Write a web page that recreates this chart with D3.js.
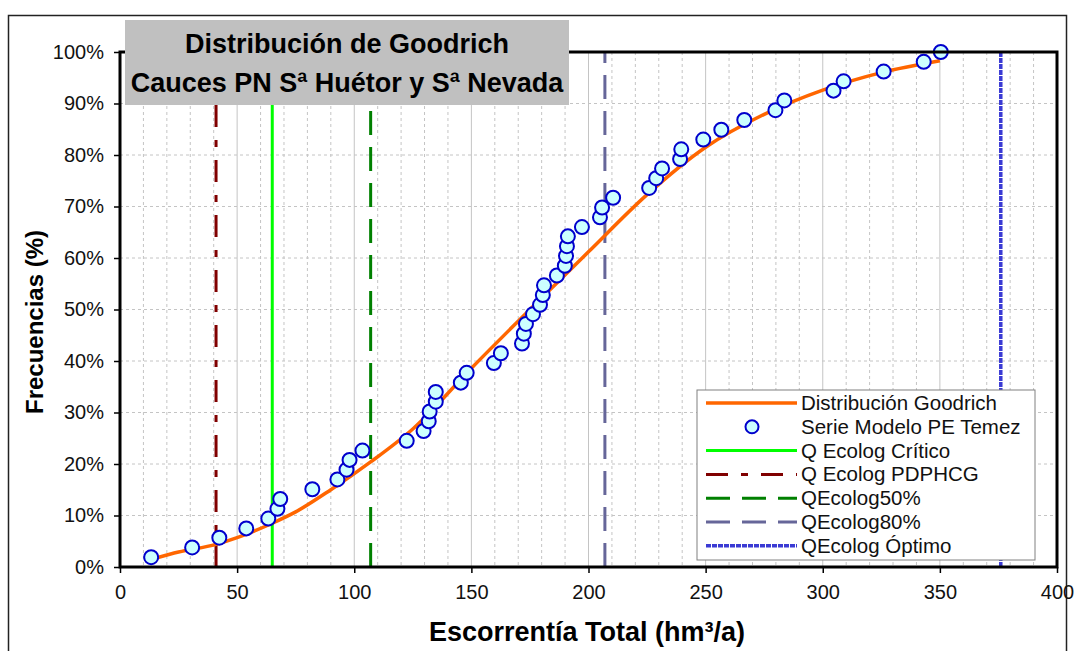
<!DOCTYPE html>
<html>
<head>
<meta charset="utf-8">
<script src="https://cdn.jsdelivr.net/npm/d3@7"></script>
<style>
  body { margin: 0; background: #fff; }
  svg { font-family: "Liberation Sans", Arial, sans-serif; }
</style>
</head>
<body>
<svg id="chart" width="1075" height="651"></svg>
<script>
// Serie Modelo PE Temez (escorrentía hm3/a, frecuencia %)
const serieX = [13.3, 30.8, 42.4, 53.9, 63.3, 67.2, 68.4, 82.1, 92.8, 96.7, 98.0, 103.5,
    122.4, 129.6, 131.8, 132.2, 134.8, 134.8, 145.5, 148.0, 159.6, 162.6,
    171.6, 172.4, 173.3, 176.3, 179.3, 180.5, 181.0, 186.5, 189.9, 190.4, 190.8, 191.2,
    197.2, 204.9, 205.8, 210.5, 225.9, 228.9, 231.4, 239.1, 239.6, 249.0, 256.7,
    266.5, 279.8, 283.6, 304.6, 308.9, 326.0, 343.1, 350.4];
const serieY = [1.9, 3.8, 5.7, 7.5, 9.4, 11.3, 13.2, 15.1, 17.0, 18.9, 20.8, 22.6,
    24.5, 26.4, 28.3, 30.2, 32.1, 34.0, 35.8, 37.7, 39.6, 41.5,
    43.4, 45.3, 47.2, 49.1, 50.9, 52.8, 54.7, 56.6, 58.5, 60.4, 62.3, 64.2,
    66.0, 67.9, 69.8, 71.7, 73.6, 75.5, 77.4, 79.2, 81.1, 83.0, 84.9,
    86.8, 88.7, 90.6, 92.5, 94.3, 96.2, 98.1, 100.0];

// Distribución Goodrich (curva)
const curvaX = [15, 25, 41, 50, 65, 75, 90, 107, 125, 150, 175, 200, 225, 250, 275, 300, 325, 350];
const curvaY = [1.7, 2.9, 4.4, 5.7, 8.5, 10.7, 15.0, 20.4, 26.8, 38.6, 50.0, 61.2, 72.3, 81.5, 87.9, 92.6, 96.0, 98.3];

// Caudales ecológicos
const caudalNombres = ["Q Ecolog PDPHCG", "Q Ecolog Crítico", "QEcolog50%", "QEcolog80%", "QEcolog Óptimo"];
const caudalValores = [41, 65, 107, 207, 376];

const xTicks = [0, 50, 100, 150, 200, 250, 300, 350, 400];
const yTicks = [0, 10, 20, 30, 40, 50, 60, 70, 80, 90, 100];

const estilos = {
    "Q Ecolog PDPHCG": { color: "#800000", dash: "22,13,7,13", width: 3 },
    "Q Ecolog Crítico": { color: "#00ff00", dash: null, width: 3 },
    "QEcolog50%": { color: "#008000", dash: "24,12", width: 3 },
    "QEcolog80%": { color: "#666699", dash: "24,12", width: 3 },
    "QEcolog Óptimo": { color: "#3a3ad4", dash: "5,1", width: 3.5 }
};

const svg = d3.select("#chart");
const margin = { left: 120, top: 52, right: 18, bottom: 84 };
const width = 1075 - margin.left - margin.right;
const height = 651 - margin.top - margin.bottom;

// marco exterior
svg.append("rect")
    .attr("x", 8.5).attr("y", 15.5)
    .attr("width", 1058).attr("height", 640)
    .attr("fill", "none").attr("stroke", "#222").attr("stroke-width", 1.5);

const g = svg.append("g").attr("transform", `translate(${margin.left},${margin.top})`);

const x = d3.scaleLinear().domain([0, 400]).range([0, width]);
const y = d3.scaleLinear().domain([0, 100]).range([height, 0]);

// rejilla
g.append("g").selectAll("line")
    .data(d3.range(10, 400, 10))
    .join("line")
    .attr("x1", d => x(d)).attr("x2", d => x(d))
    .attr("y1", 0).attr("y2", height)
    .attr("stroke", "#c4c4c4")
    .attr("stroke-dasharray", d => d % 50 === 0 ? null : "3,3");

g.append("g").selectAll("line")
    .data(d3.range(10, 100, 10))
    .join("line")
    .attr("x1", 0).attr("x2", width)
    .attr("y1", d => y(d)).attr("y2", d => y(d))
    .attr("stroke", "#c4c4c4")
    .attr("stroke-dasharray", "3,3");

// ejes
const xAxis = g.append("g")
    .attr("transform", `translate(0,${height})`)
    .call(d3.axisBottom(x).tickValues(xTicks).tickSize(6).tickPadding(12));
const yAxis = g.append("g")
    .call(d3.axisLeft(y).tickValues(yTicks).tickSize(6).tickPadding(10).tickFormat(d => d + "%"));

[xAxis, yAxis].forEach(a => {
    a.select(".domain").remove();
    a.selectAll(".tick line").attr("stroke", "#000").attr("stroke-width", 1.5);
    a.selectAll(".tick text")
        .attr("fill", "#111")
        .style("font-size", "20px")
        .style("font-family", "'Liberation Sans', Arial, sans-serif");
});

// lineas verticales de caudales
caudalNombres.forEach((n, i) => {
    const s = estilos[n];
    g.append("line")
        .attr("x1", x(caudalValores[i])).attr("x2", x(caudalValores[i]))
        .attr("y1", height).attr("y2", 0)
        .attr("stroke", s.color)
        .attr("stroke-width", s.width)
        .attr("stroke-dasharray", s.dash);
});

// curva Goodrich
const curva = curvaX.map((d, i) => [d, curvaY[i]]);
g.append("path")
    .datum(curva)
    .attr("fill", "none")
    .attr("stroke", "#ff6600")
    .attr("stroke-width", 3.5)
    .attr("d", d3.line().x(d => x(d[0])).y(d => y(d[1])).curve(d3.curveMonotoneX));

// puntos
g.append("g").selectAll("circle")
    .data(serieX.map((d, i) => [d, serieY[i]]))
    .join("circle")
    .attr("cx", d => x(d[0])).attr("cy", d => y(d[1]))
    .attr("r", 7)
    .attr("fill", "#ccffff")
    .attr("stroke", "#0000cc")
    .attr("stroke-width", 2);

// borde del area de trazado
g.append("rect")
    .attr("width", width).attr("height", height)
    .attr("fill", "none").attr("stroke", "#000").attr("stroke-width", 3);

// titulo
svg.append("rect")
    .attr("x", 125).attr("y", 20).attr("width", 444).attr("height", 85)
    .attr("fill", "#c0c0c0");
svg.append("text")
    .attr("x", 347).attr("y", 53)
    .attr("text-anchor", "middle")
    .style("font-size", "27px").style("font-weight", "bold")
    .text("Distribución de Goodrich");
svg.append("text")
    .attr("x", 347).attr("y", 92)
    .attr("text-anchor", "middle")
    .style("font-size", "27px").style("font-weight", "bold")
    .text("Cauces PN Sª Huétor y Sª Nevada");

// titulos de ejes
svg.append("text")
    .attr("x", 587).attr("y", 641)
    .attr("text-anchor", "middle")
    .style("font-size", "27px").style("font-weight", "bold")
    .text("Escorrentía Total (hm³/a)");
svg.append("text")
    .attr("transform", "translate(43,322) rotate(-90)")
    .attr("text-anchor", "middle")
    .style("font-size", "24px").style("font-weight", "bold")
    .text("Frecuencias (%)");

// leyenda
const leyenda = svg.append("g").attr("transform", "translate(697,390)");
leyenda.append("rect")
    .attr("width", 338).attr("height", 170)
    .attr("fill", "#fff").attr("stroke", "#808080").attr("stroke-width", 1);

const items = ["Distribución Goodrich", "Serie Modelo PE Temez", "Q Ecolog Crítico",
    "Q Ecolog PDPHCG", "QEcolog50%", "QEcolog80%", "QEcolog Óptimo"];
items.forEach((n, i) => {
    const yy = 13 + i * 23.8;
    if (n === "Distribución Goodrich") {
        leyenda.append("line").attr("x1", 9).attr("x2", 100).attr("y1", yy).attr("y2", yy)
            .attr("stroke", "#ff6600").attr("stroke-width", 3.5);
    } else if (n === "Serie Modelo PE Temez") {
        leyenda.append("circle").attr("cx", 55).attr("cy", yy).attr("r", 6.5)
            .attr("fill", "#ccffff").attr("stroke", "#0000cc").attr("stroke-width", 2);
    } else {
        const s = estilos[n];
        leyenda.append("line").attr("x1", 9).attr("x2", 100).attr("y1", yy).attr("y2", yy)
            .attr("stroke", s.color).attr("stroke-width", s.width)
            .attr("stroke-dasharray", s.dash);
    }
    leyenda.append("text")
        .attr("x", 104).attr("y", yy + 7)
        .style("font-size", "20.5px")
        .attr("fill", "#111")
        .text(n);
});
</script>
</body>
</html>
